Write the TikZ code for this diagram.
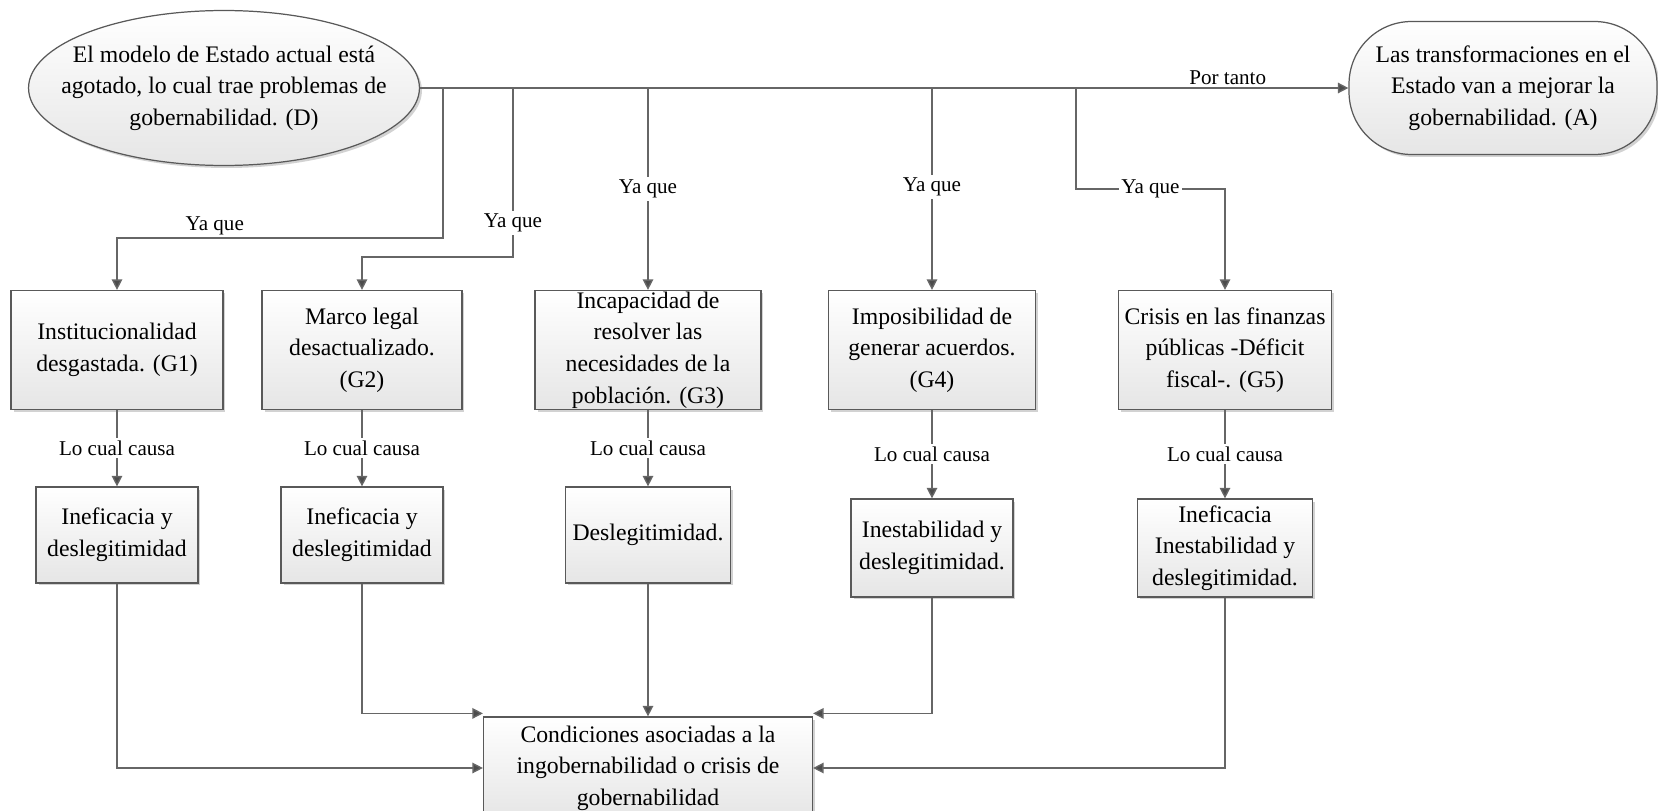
\documentclass[tikz,border=0pt]{standalone}
\usepackage{fontspec}
\setmainfont{Liberation Serif}
\usetikzlibrary{arrows.meta,shapes.geometric,shadows}

\begin{document}
\begin{tikzpicture}[
			x=0.02cm, y=-0.02cm,
			txt/.style={font=\fontsize{13.5pt}{18pt}\selectfont, align=center, inner sep=1.5pt},
			fancy/.style={top color=white, bottom color=black!10, draw=black!65, line width=0.7pt,
				drop shadow={shadow xshift=0.05cm, shadow yshift=-0.05cm, fill=black!35, opacity=0.5}},
			box/.style={rectangle, fancy, txt},
			idea/.style={ellipse, fancy, txt, minimum width=7.82cm, minimum height=3.1cm,
				inner xsep=-0.55cm, inner ysep=0pt},
			goal/.style={rectangle, rounded corners=1.25cm, fancy, txt,
				minimum width=6.16cm, minimum height=2.66cm},
			cause/.style={box, minimum height=2.38cm},
			effect/.style={box, minimum height=1.92cm},
			conn/.style={draw=black!60, line width=0.8pt, -{Triangle[length=0.21cm, width=0.21cm, fill=black!70]}},
			lbl/.style={font=\fontsize{12pt}{14pt}\selectfont, inner sep=1.5pt},
			brk/.style={lbl, fill=white}
			]
			\useasboundingbox (0,0) rectangle (1658,811);
			
			\node[idea] (D) at (224,88) {El modelo de Estado actual está\\agotado, lo cual trae problemas de\\gobernabilidad. (D)};
			\node[goal] (A) at (1503,88) {Las transformaciones en el\\Estado van a mejorar la\\gobernabilidad. (A)};
			
			\node[cause, minimum width=4.24cm] (G1) at (117,350) {Institucionalidad\\desgastada. (G1)};
			\node[cause, minimum width=4.0cm] (G2) at (362,350) {Marco legal\\desactualizado.\\(G2)};
			\node[cause, minimum width=4.52cm, inner sep=0pt] (G3) at (648,350) {Incapacidad de\\resolver las\\necesidades de la\\población. (G3)};
			\node[cause, minimum width=4.14cm] (G4) at (932,350) {Imposibilidad de\\generar acuerdos.\\(G4)};
			\node[cause, minimum width=4.26cm] (G5) at (1225,350) {Crisis en las finanzas\\públicas -Déficit\\fiscal-. (G5)};
			
			\node[effect, minimum width=3.24cm] (C1) at (117,535) {Ineficacia y\\deslegitimidad};
			\node[effect, minimum width=3.24cm] (C2) at (362,535) {Ineficacia y\\deslegitimidad};
			\node[effect, minimum width=3.3cm] (C3) at (648,535) {Deslegitimidad.};
			\node[effect, minimum width=3.24cm, minimum height=1.96cm] (C4) at (932,548) {Inestabilidad y\\deslegitimidad.};
			\node[effect, minimum width=3.5cm, minimum height=1.96cm] (C5) at (1225,548) {Ineficacia\\Inestabilidad y\\deslegitimidad.};
			
			\node[box, minimum width=6.58cm, minimum height=2.04cm] (H) at (648,768) {Condiciones asociadas a la\\ingobernabilidad o crisis de\\gobernabilidad};
			
			% branch points on the main line
			\coordinate (b1) at (443,88);
			\coordinate (b2) at (513,88);
			\coordinate (b3) at (648,88);
			\coordinate (b4) at (932,88);
			\coordinate (b5) at (1076,88);
			
			\draw[conn] (D) -- node[lbl, above, pos=0.87]{Por tanto} (A);
			
			\draw[conn] (b1) -- ++(0,150) -| node[lbl, above, pos=0.35]{Ya que} (G1);
			\draw[conn] (b2) -- node[brk, pos=0.8]{Ya que} ++(0,169) -| (G2);
			\draw[conn] (b3) -- node[brk, pos=0.5]{Ya que} (G3);
			\draw[conn] (b4) -- node[brk, pos=0.49]{Ya que} (G4);
			\draw[conn] (b5) -- ++(0,101) -| node[brk, pos=0.25]{Ya que} (G5);
			
			\foreach \g/\c in {G1/C1, G2/C2, G3/C3, G4/C4, G5/C5}
			\draw[conn] (\g) -- node[brk]{Lo cual causa} (\c);
			
			\draw[conn] (C1) |- (H);
			\draw[conn] (C2) |- ([yshift=0.06cm]H.north west);
			\draw[conn] (C3) -- (H);
			\draw[conn] (C4) |- ([yshift=0.06cm]H.north east);
			\draw[conn] (C5) |- (H);
		\end{tikzpicture}
\end{document}
